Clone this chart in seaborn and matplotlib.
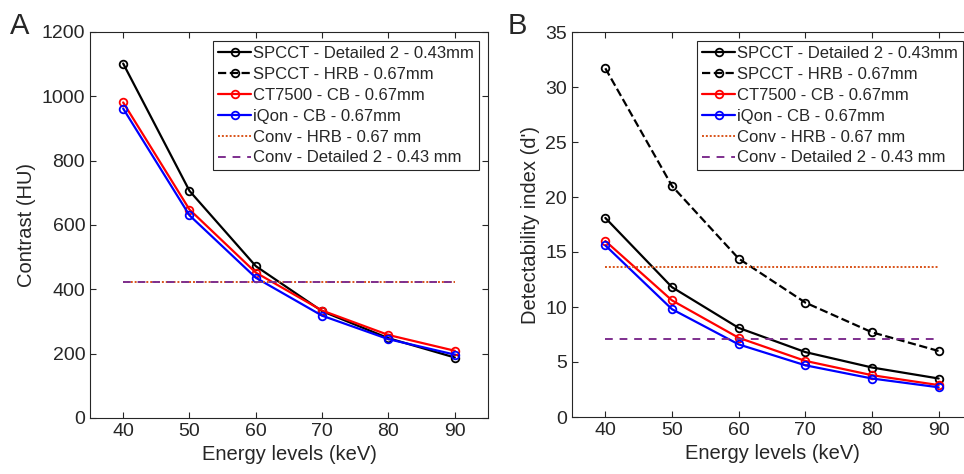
import numpy as np
import pandas as pd
import matplotlib
matplotlib.use("Agg")
import matplotlib.pyplot as plt
import seaborn as sns

energies = [40, 50, 60, 70, 80, 90]

# Panel A - contrast (HU)
contrast_spcct_det = [1102, 706, 472, 332, 248, 188]
contrast_ct7500 = [981, 648, 452, 334, 258, 209]
contrast_iqon = [962, 630, 436, 318, 245, 197]
contrast_conv_hrb = 422
contrast_conv_det = 422

# Panel B - detectability index (d')
dprime_spcct_det = [18.1, 11.8, 8.1, 5.9, 4.5, 3.5]
dprime_spcct_hrb = [31.7, 21.0, 14.4, 10.4, 7.7, 6.0]
dprime_ct7500 = [16.0, 10.6, 7.2, 5.1, 3.8, 2.9]
dprime_iqon = [15.6, 9.8, 6.6, 4.7, 3.5, 2.7]
dprime_conv_hrb = 13.6
dprime_conv_det = 7.1

labels = [
    "SPCCT - Detailed 2 - 0.43mm",
    "SPCCT - HRB - 0.67mm",
    "CT7500 - CB - 0.67mm",
    "iQon - CB - 0.67mm",
    "Conv - HRB - 0.67 mm",
    "Conv - Detailed 2 - 0.43 mm",
]

sns.set_theme(style="ticks")
plt.rcParams["font.family"] = ["Liberation Sans", "DejaVu Sans"]
AX_COL = "#262626"
plt.rcParams.update({
    "axes.edgecolor": AX_COL,
    "xtick.color": AX_COL,
    "ytick.color": AX_COL,
    "axes.labelcolor": AX_COL,
    "xtick.direction": "in",
    "ytick.direction": "in",
    "axes.linewidth": 0.8,
})

ORANGE = "#D95319"
PURPLE = "#7E2F8E"


def draw_panel(ax, det, hrb, ct, iqon, conv_hrb, conv_det):
    series = [(det, "black", "-"), (hrb, "black", "--"), (ct, "red", "-"), (iqon, "blue", "-")]
    for (vals, col, ls), lab in zip(series, labels[:4]):
        df = pd.DataFrame({"keV": energies, "val": vals if vals is not None else [np.nan] * len(energies)})
        sns.lineplot(data=df, x="keV", y="val", ax=ax, color=col, linestyle=ls, lw=1.6,
                     marker="o", markersize=5.5, markerfacecolor="none",
                     markeredgecolor=col, markeredgewidth=1.3, label=lab)
    flat = pd.DataFrame({"keV": [energies[0], energies[-1]]})
    sns.lineplot(data=flat.assign(val=conv_hrb), x="keV", y="val", ax=ax,
                 color=ORANGE, linestyle=(0, (1, 1)), lw=1.4, label=labels[4])
    sns.lineplot(data=flat.assign(val=conv_det), x="keV", y="val", ax=ax,
                 color=PURPLE, linestyle=(0, (4, 3.5)), lw=1.4, label=labels[5])
    ax.set_xlim(35, 95)
    ax.set_xticks(energies)
    ax.tick_params(labelsize=14, top=True, right=True, length=4, width=0.8)
    ax.set_xlabel("Energy levels (keV)", fontsize=14.5)
    leg = ax.legend(loc="upper right", fontsize=12, frameon=True, fancybox=False,
                    edgecolor=AX_COL, framealpha=1, handlelength=2.0, handletextpad=0.1,
                    borderpad=0.3, labelspacing=0.35, borderaxespad=0.55)
    leg.get_frame().set_linewidth(0.8)


fig = plt.figure(figsize=(9.64, 4.74), dpi=100)
ax_a = fig.add_axes([90 / 964, 56 / 474, 398 / 964, 386 / 474])
ax_b = fig.add_axes([572 / 964, 57 / 474, 400 / 964, 385 / 474])

draw_panel(ax_a, contrast_spcct_det, None, contrast_ct7500, contrast_iqon,
           contrast_conv_hrb, contrast_conv_det)
ax_a.set_ylim(0, 1200)
ax_a.set_yticks(range(0, 1201, 200))
ax_a.set_ylabel("Contrast (HU)", fontsize=14.5)

draw_panel(ax_b, dprime_spcct_det, dprime_spcct_hrb, dprime_ct7500, dprime_iqon,
           dprime_conv_hrb, dprime_conv_det)
ax_b.set_ylim(0, 35)
ax_b.set_yticks(range(0, 36, 5))
ax_b.set_ylabel("Detectability index (d')", fontsize=14.5)

fig.text(10 / 964, 1 - 34 / 474, "A", fontsize=21)
fig.text(508 / 964, 1 - 34 / 474, "B", fontsize=21)

fig.savefig("out.png", dpi=100)
